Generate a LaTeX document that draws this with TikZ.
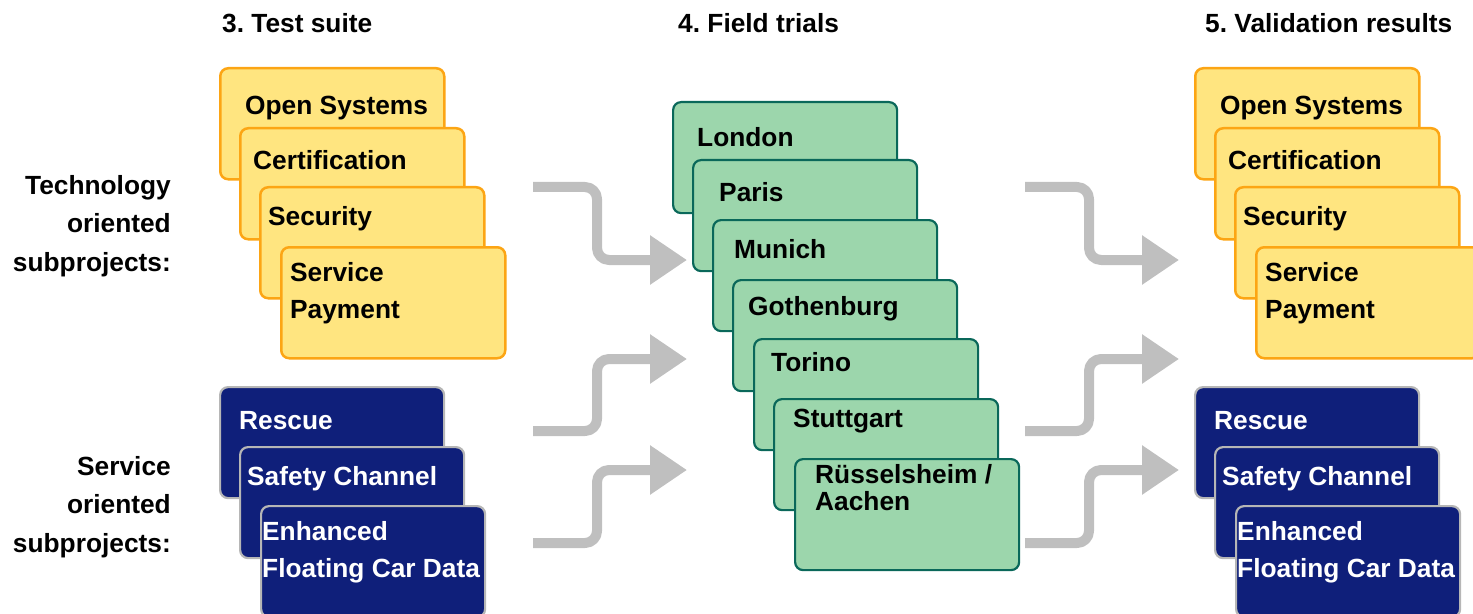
\documentclass[tikz,border=0pt]{standalone}
\usepackage{fontspec}
\setmainfont{Liberation Sans}
\frenchspacing
\usetikzlibrary{arrows.meta}
\definecolor{suiteFill}{RGB}{255,229,128}
\definecolor{suiteDraw}{RGB}{252,165,20}
\definecolor{trialFill}{RGB}{156,214,172}
\definecolor{trialDraw}{RGB}{10,104,90}
\definecolor{serviceFill}{RGB}{15,31,122}
\definecolor{serviceDraw}{RGB}{182,182,182}
\definecolor{flowGray}{RGB}{191,191,191}
\tikzset{
  card/.style={rectangle,rounded corners=8bp,minimum width=224bp,minimum height=111bp,anchor=north west,inner sep=0pt},
  techcard/.style={card,fill=suiteFill,draw=suiteDraw,line width=2.5bp},
  trialcard/.style={card,fill=trialFill,draw=trialDraw,line width=2.2bp},
  servcard/.style={card,fill=serviceFill,draw=serviceDraw,line width=2.2bp},
  cardtext/.style={anchor=base west,inner sep=0pt,align=left,font=\fontsize{26.4}{37}\selectfont\bfseries},
  headtext/.style={cardtext},
  sidetext/.style={anchor=base east,inner sep=0pt,align=right,font=\fontsize{26.4}{38.5}\selectfont\bfseries},
  flow/.style={draw=flowGray,line width=10bp,rounded corners=12bp,->},
}
\begin{document}
\begin{tikzpicture}[x=1bp,y=-1bp,>={Triangle[length=37bp,width=47bp]},line join=round]
\clip (0,0) rectangle (1473,614);
%% base anchors of multi-line texts sit on the last line
\node (head_suite) at (222,33) [headtext] {3. Test suite};
\node (head_trials) at (678,33) [headtext] {4. Field trials};
\node (head_results) at (1205,33) [headtext] {5. Validation results};
\node (side_tech) at (171,271) [sidetext] {Technology\\oriented\\subprojects:};
\node (side_serv) at (171,552) [sidetext] {Service\\oriented\\subprojects:};
%% test suite
\node (ts_open) at (219,67) [techcard] {};
\node (ts_open_t) at (245,115) [cardtext] {Open Systems};
\node (ts_cert) at (239,127) [techcard] {};
\node (ts_cert_t) at (253,170) [cardtext] {Certification};
\node (ts_sec) at (259,186) [techcard] {};
\node (ts_sec_t) at (268,225) [cardtext] {Security};
\node (ts_pay) at (280,246) [techcard] {};
\node (ts_pay_t) at (290,318) [cardtext] {Service\\Payment};
\node (ts_resc) at (219,386) [servcard] {};
\node (ts_resc_t) at (239,429) [cardtext,white] {Rescue};
\node (ts_safe) at (239,446) [servcard] {};
\node (ts_safe_t) at (247,485) [cardtext,white] {Safety Channel};
\node (ts_fcd) at (260,505) [servcard] {};
\node (ts_fcd_t) at (262,577) [cardtext,white] {Enhanced\\Floating Car Data};
%% field trials
\node (ft_lon) at (672,101) [trialcard] {};
\node (ft_lon_t) at (697,147) [cardtext] {London};
\node (ft_par) at (692,159) [trialcard] {};
\node (ft_par_t) at (719,202) [cardtext] {Paris};
\node (ft_mun) at (712,219) [trialcard] {};
\node (ft_mun_t) at (734,258) [cardtext] {Munich};
\node (ft_got) at (732,279) [trialcard] {};
\node (ft_got_t) at (748,315) [cardtext] {Gothenburg};
\node (ft_tor) at (753,338) [trialcard] {};
\node (ft_tor_t) at (771,371) [cardtext] {Torino};
\node (ft_stu) at (773,398) [trialcard] {};
\node (ft_stu_t) at (793,427) [cardtext] {Stuttgart};
\node (ft_rue) at (794,458) [trialcard] {};
\node (ft_rue_t) at (815,510) [cardtext,font=\fontsize{26.4}{27}\selectfont\bfseries] {Rüsselsheim /\\Aachen};
%% validation results
\node (vr_open) at (1194,67) [techcard] {};
\node (vr_open_t) at (1220,115) [cardtext] {Open Systems};
\node (vr_cert) at (1214,127) [techcard] {};
\node (vr_cert_t) at (1228,170) [cardtext] {Certification};
\node (vr_sec) at (1234,186) [techcard] {};
\node (vr_sec_t) at (1243,225) [cardtext] {Security};
\node (vr_pay) at (1255,246) [techcard] {};
\node (vr_pay_t) at (1265,318) [cardtext] {Service\\Payment};
\node (vr_resc) at (1194,386) [servcard] {};
\node (vr_resc_t) at (1214,429) [cardtext,white] {Rescue};
\node (vr_safe) at (1214,446) [servcard] {};
\node (vr_safe_t) at (1222,485) [cardtext,white] {Safety Channel};
\node (vr_fcd) at (1235,505) [servcard] {};
\node (vr_fcd_t) at (1237,577) [cardtext,white] {Enhanced\\Floating Car Data};
%% flows
\coordinate (in_a) at (533,187);
\coordinate (in_b) at (533,431);
\coordinate (in_c) at (533,543);
\coordinate (to_a) at (687,260);
\coordinate (to_b) at (687,359);
\coordinate (to_c) at (687,470);
\coordinate (out_a) at (1025,187);
\coordinate (out_b) at (1025,431);
\coordinate (out_c) at (1025,543);
\coordinate (res_a) at (1179,260);
\coordinate (res_b) at (1179,359);
\coordinate (res_c) at (1179,470);
\draw [flow] (in_a) -- ++(64,0) |- (to_a);
\draw [flow] (in_b) -- ++(64,0) |- (to_b);
\draw [flow] (in_c) -- ++(64,0) |- (to_c);
\draw [flow] (out_a) -- ++(64,0) |- (res_a);
\draw [flow] (out_b) -- ++(64,0) |- (res_b);
\draw [flow] (out_c) -- ++(64,0) |- (res_c);
%
\end{tikzpicture}
\end{document}
